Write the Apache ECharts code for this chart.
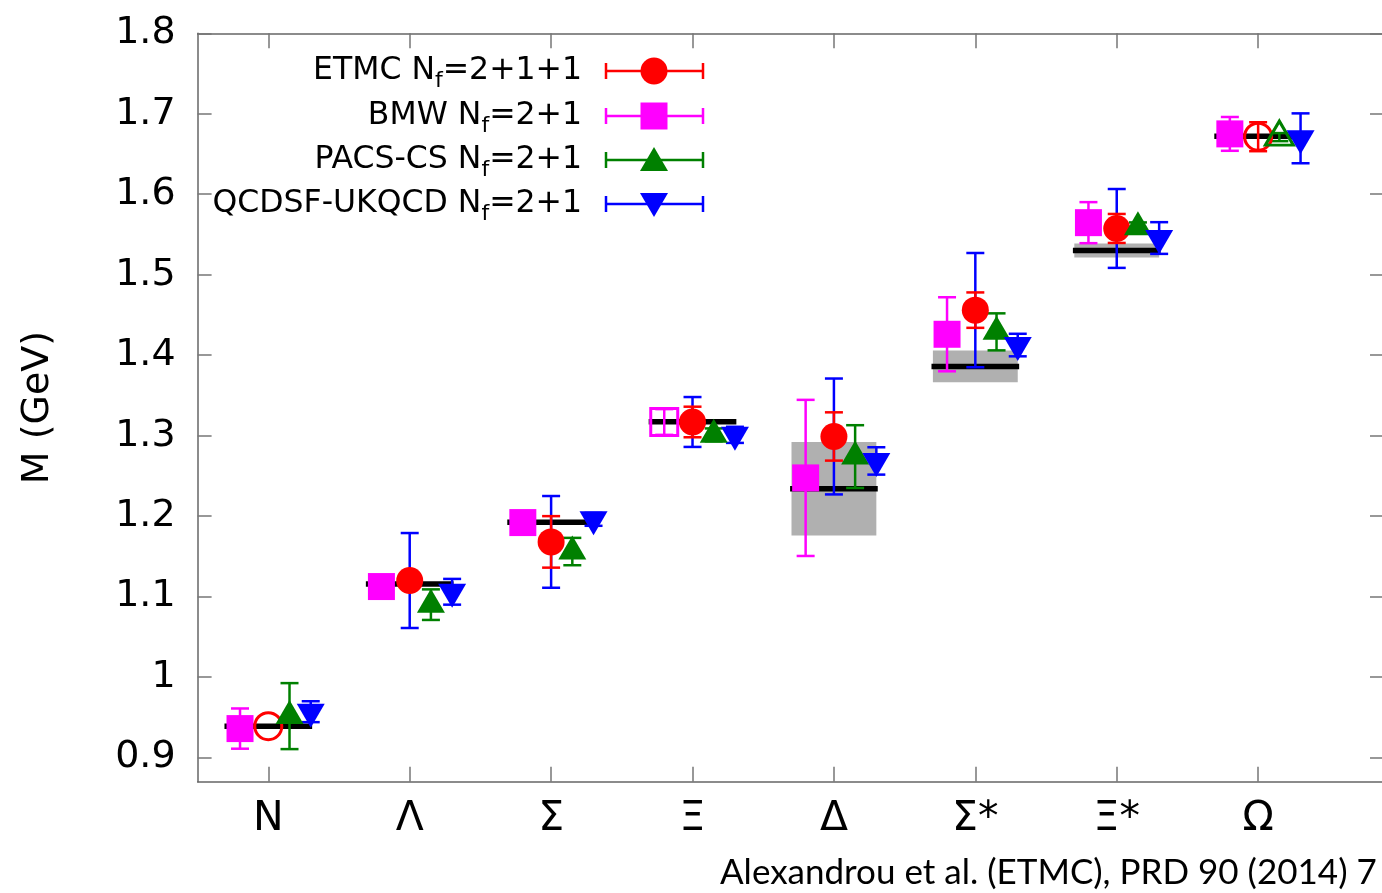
<!DOCTYPE html>
<html>
<head>
<meta charset="utf-8">
<script src="https://cdn.jsdelivr.net/npm/echarts@6/dist/echarts.min.js"></script>
<style>
  html, body { margin: 0; padding: 0; background: #fff; }
  #chart { width: 1382px; height: 893px; }
</style>
</head>
<body>
<div id="chart"></div>
<script>
// baryon masses (GeV)
const baryons = ['N', 'Λ', 'Σ', 'Ξ', 'Δ', 'Σ*', 'Ξ*', 'Ω'];
const yTicks = [0.9, 1.0, 1.1, 1.2, 1.3, 1.4, 1.5, 1.6, 1.7, 1.8];

// experiment: mass line, grey band = width
const expMass = [0.9389, 1.1157, 1.1925, 1.3172, 1.234, 1.386, 1.530, 1.672];
const expLow = [null, null, null, null, 1.176, 1.3665, 1.5214, null];
const expHigh = [null, null, null, null, 1.292, 1.4059, 1.5388, null];

const etmcMass = [0.939, 1.120, 1.168, 1.317, 1.299, 1.456, 1.5575, 1.6715];
const etmcStat = [0, 0.010, 0.032, 0.019, 0.030, 0.022, 0.018, 0.018];
const etmcTotal = [0, 0.059, 0.057, 0.031, 0.072, 0.071, 0.049, 0];
const etmcOpen = [1, 0, 0, 0, 0, 0, 0, 1];

const bmwMass = [0.936, 1.1125, 1.192, 1.317, 1.2475, 1.426, 1.5647, 1.675];
const bmwErr = [0.025, 0.008, 0.008, 0.016, 0.097, 0.046, 0.0255, 0.021];
const bmwOpen = [0, 0, 0, 1, 0, 0, 0, 0];

const pacsMass = [0.9515, 1.090, 1.156, 1.301, 1.274, 1.429, 1.559, 1.671];
const pacsErr = [0.041, 0.019, 0.017, 0.008, 0.039, 0.023, 0.006, 0.005];
const pacsOpen = [0, 0, 0, 0, 0, 0, 0, 1];

const qcdsfMass = [0.957, 1.106, 1.196, 1.301, 1.2686, 1.4126, 1.5456, 1.6695];
const qcdsfErr = [0.013, 0.016, 0.008, 0.010, 0.017, 0.014, 0.0197, 0.031];
const qcdsfOpen = [0, 0, 0, 0, 0, 0, 0, 0];

const legendNames = ['ETMC', 'BMW', 'PACS-CS', 'QCDSF-UKQCD'];
const legendNf = ['2+1+1', '2+1', '2+1', '2+1'];

const RED = '#ff0000', MAG = '#ff00ff', GRN = '#008000', BLU = '#0000ff';
const FONT = 'DejaVu Sans';
const downTri = 'path://M0,0 L28,0 L14,24 Z';

const chart = echarts.init(document.getElementById('chart'), null, { renderer: 'canvas' });

function errorBarSeries(color, data) {
    return {
        type: 'custom',
        silent: true,
        data: data,
        renderItem: (params, api) => {
            const x = api.value(0), lo = api.value(1), hi = api.value(2);
            if (!(hi > lo)) return;
            const top = api.coord([x, hi]), bot = api.coord([x, lo]);
            const st = { stroke: color, lineWidth: 2.5 };
            return {
                type: 'group',
                children: [
                    { type: 'line', shape: { x1: top[0], y1: top[1], x2: bot[0], y2: bot[1] }, style: st },
                    { type: 'line', shape: { x1: top[0] - 9, y1: top[1], x2: top[0] + 9, y2: top[1] }, style: st },
                    { type: 'line', shape: { x1: bot[0] - 9, y1: bot[1], x2: bot[0] + 9, y2: bot[1] }, style: st }
                ]
            };
        }
    };
}

function pointSeries(color, masses, open, shift, symbol, size, offset) {
    return {
        type: 'scatter',
        silent: true,
        symbol: symbol,
        symbolSize: size,
        symbolOffset: offset,
        itemStyle: { opacity: 1 },
        data: masses.map((m, i) => ({
            value: [i + 1 + shift, m],
            itemStyle: open[i]
                ? { color: 'rgba(0,0,0,0)', borderColor: color, borderWidth: 3, opacity: 1 }
                : { color: color, borderWidth: 0, opacity: 1 }
        }))
    };
}

function bars(masses, errs, shift) {
    return masses.map((m, i) => [i + 1 + shift, m - errs[i], m + errs[i]]);
}

const boxData = expLow.map((lo, i) => [i + 1, lo, expHigh[i]]).filter(d => d[1] !== null);

const series = [
    {
        type: 'custom',
        silent: true,
        data: boxData,
        renderItem: (params, api) => {
            const x = api.value(0);
            const a = api.coord([x - 0.3, api.value(2)]), b = api.coord([x + 0.3, api.value(1)]);
            return { type: 'rect', shape: { x: a[0], y: a[1], width: b[0] - a[0], height: b[1] - a[1] }, style: { fill: '#b0b0b0' } };
        }
    },
    {
        type: 'custom',
        silent: true,
        data: expMass.map((m, i) => [i + 1, m]),
        renderItem: (params, api) => {
            const x = api.value(0), m = api.value(1);
            const a = api.coord([x - 0.31, m]), b = api.coord([x + 0.31, m]);
            return { type: 'line', shape: { x1: a[0], y1: a[1], x2: b[0], y2: b[1] }, style: { stroke: '#000', lineWidth: 5.5 } };
        }
    },
    errorBarSeries(MAG, bars(bmwMass, bmwErr, -0.2)),
    pointSeries(MAG, bmwMass, bmwOpen, -0.2, 'rect', 27, [0, 0]),
    errorBarSeries(BLU, bars(etmcMass, etmcTotal, 0)),
    errorBarSeries(RED, bars(etmcMass, etmcStat, 0)),
    pointSeries(RED, etmcMass, etmcOpen, 0, 'circle', 27, [0, 0]),
    errorBarSeries(GRN, bars(pacsMass, pacsErr, 0.15)),
    pointSeries(GRN, pacsMass, pacsOpen, 0.15, 'triangle', [28, 24], [0, -4]),
    errorBarSeries(BLU, bars(qcdsfMass, qcdsfErr, 0.3)),
    pointSeries(BLU, qcdsfMass, qcdsfOpen, 0.3, downTri, [28, 24], [0, 4])
];

// legend drawn gnuplot-style: text, error-bar sample, marker
const legendColors = [RED, MAG, GRN, BLU];
const legendRows = [71, 116, 160, 204];
const legend = [];
legendNames.forEach((name, i) => {
    const y = legendRows[i], c = legendColors[i];
    legend.push({
        type: 'text', x: 582, y: y, silent: true,
        style: {
            text: '{a|' + name + ' N}{s|f}{a|=' + legendNf[i] + '}',
            align: 'right', verticalAlign: 'middle',
            rich: {
                a: { fontFamily: FONT, fontSize: 31.5, fill: '#000' },
                s: { fontFamily: FONT, fontSize: 22, fill: '#000', padding: [20, 0, 0, 0] }
            }
        }
    });
    const st = { stroke: c, lineWidth: 2.5 };
    legend.push({ type: 'line', silent: true, shape: { x1: 606, y1: y, x2: 703, y2: y }, style: st });
    legend.push({ type: 'line', silent: true, shape: { x1: 606, y1: y - 8, x2: 606, y2: y + 8 }, style: st });
    legend.push({ type: 'line', silent: true, shape: { x1: 703, y1: y - 8, x2: 703, y2: y + 8 }, style: st });
    if (i === 0) legend.push({ type: 'circle', silent: true, shape: { cx: 654, cy: y, r: 13.5 }, style: { fill: c } });
    if (i === 1) legend.push({ type: 'rect', silent: true, shape: { x: 640.5, y: y - 13.5, width: 27, height: 27 }, style: { fill: c } });
    if (i === 2) legend.push({ type: 'polygon', silent: true, shape: { points: [[654, y - 13], [640, y + 11], [668, y + 11]] }, style: { fill: c } });
    if (i === 3) legend.push({ type: 'polygon', silent: true, shape: { points: [[640, y - 11], [668, y - 11], [654, y + 13]] }, style: { fill: c } });
});
legend.push({
    type: 'text', x: 720, y: 873, silent: true,
    style: { text: 'Alexandrou et al. (ETMC), PRD 90 (2014) 7', fontFamily: 'Lato', fontSize: 35, fill: '#000', verticalAlign: 'middle' }
});

const axisLine = { show: true, lineStyle: { color: '#666', width: 1.5 } };
const tickStyle = { color: '#777', width: 1.5 };
const xTickPos = baryons.map((b, i) => i + 1);

chart.setOption({
    animation: false,
    backgroundColor: '#fff',
    grid: { left: 197.6, right: 0, top: 33.3, bottom: 111.3, containLabel: false },
    xAxis: [
        {
            type: 'value', min: 0.5, max: 8.876, position: 'bottom',
            axisLine: axisLine,
            axisTick: { show: true, inside: true, length: 15, customValues: xTickPos, lineStyle: tickStyle },
            axisLabel: {
                customValues: xTickPos, margin: 17,
                formatter: v => baryons[Math.round(v) - 1] || '',
                fontFamily: FONT, fontSize: 41, color: '#000'
            },
            splitLine: { show: false }
        },
        {
            type: 'value', min: 0.5, max: 8.876, position: 'top',
            axisLine: axisLine,
            axisTick: { show: true, inside: true, length: 15, customValues: xTickPos, lineStyle: tickStyle },
            axisLabel: { show: false },
            splitLine: { show: false }
        }
    ],
    yAxis: [
        {
            type: 'value', min: 0.87, max: 1.8, position: 'left',
            name: 'M (GeV)', nameLocation: 'middle', nameGap: 140, nameRotate: 90,
            nameTextStyle: { fontFamily: FONT, fontSize: 38, color: '#000' },
            axisLine: axisLine,
            axisTick: { show: true, inside: true, length: 14, customValues: yTicks, lineStyle: tickStyle },
            axisLabel: {
                customValues: yTicks, margin: 22,
                formatter: v => String(+v.toFixed(1)),
                fontFamily: FONT, fontSize: 38, color: '#000'
            },
            splitLine: { show: false }
        },
        {
            type: 'value', min: 0.87, max: 1.8, position: 'right',
            axisLine: { show: false },
            axisTick: { show: true, inside: true, length: 12, customValues: yTicks, lineStyle: tickStyle },
            axisLabel: { show: false },
            splitLine: { show: false }
        }
    ],
    series: series,
    graphic: legend
});
</script>
</body>
</html>
